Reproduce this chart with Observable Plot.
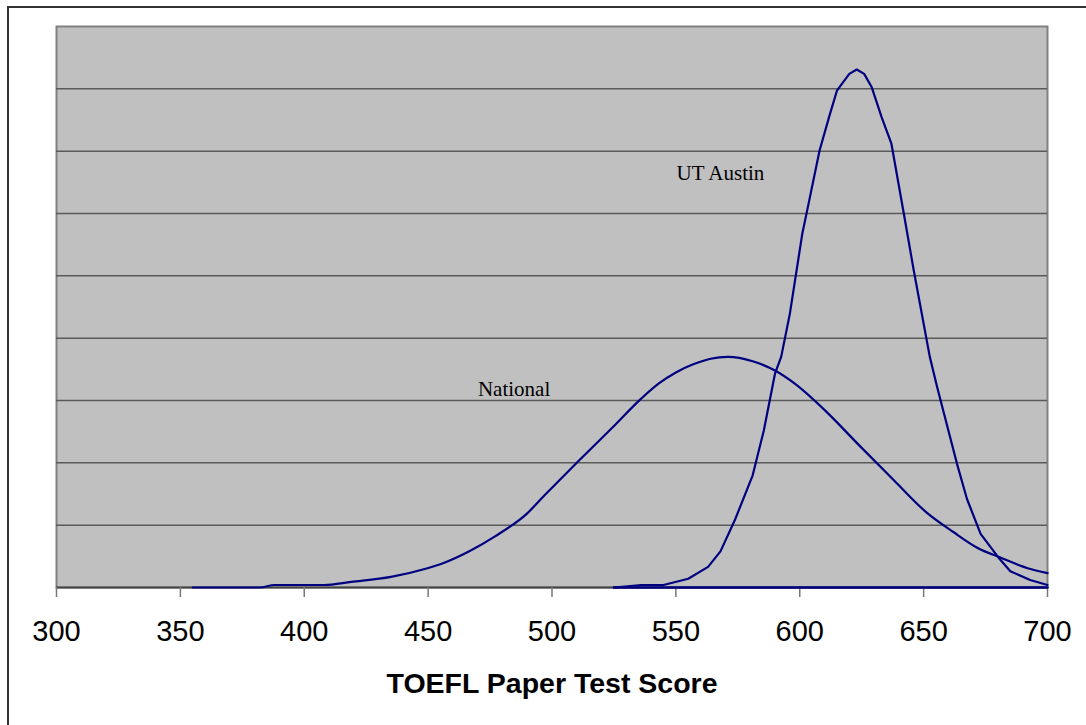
<!DOCTYPE html>
<html>
<head>
<meta charset="utf-8">
<script src="https://cdn.jsdelivr.net/npm/d3@7"></script>
<script src="https://cdn.jsdelivr.net/npm/@observablehq/plot@0.6"></script>
<style>
  html, body { margin: 0; padding: 0; background: #fff; overflow: hidden; }
  #wrap { position: relative; width: 1086px; height: 725px; }
  #border { position: absolute; left: 7px; top: 6px; width: 1200px; height: 800px;
            border-left: 2px solid #333; border-top: 2px solid #333; pointer-events: none; }
  #chart { position: absolute; left: 0; top: 0; }
</style>
</head>
<body>
<div id="wrap"><div id="chart"></div><div id="border"></div></div>
<script>
// TOEFL paper test score distributions (relative frequency, arbitrary units)
const nationalScore = [355, 382, 388, 408, 419, 435, 449, 456, 467, 477, 490, 497, 503, 511, 524, 536, 543, 550, 557, 564, 571, 581, 590, 598, 611, 624, 638, 651, 662, 672, 681, 692, 700];
const nationalFreq  = [0, 0, 0.04, 0.04, 0.09, 0.17, 0.30, 0.39, 0.59, 0.82, 1.19, 1.48, 1.72, 2.04, 2.55, 3.03, 3.27, 3.45, 3.58, 3.67, 3.70, 3.63, 3.48, 3.27, 2.81, 2.28, 1.72, 1.21, 0.89, 0.63, 0.48, 0.31, 0.23];

const utScore = [525, 536, 545, 555, 563, 568, 574, 581, 585.5, 590, 592.5, 596, 601, 603, 608, 612, 615, 620, 623, 626, 629, 633, 637, 642, 646, 652.5, 655.5, 663.5, 667.5, 673, 680, 685, 693, 700];
const utFreq  = [0, 0.04, 0.04, 0.14, 0.33, 0.58, 1.10, 1.80, 2.52, 3.43, 3.70, 4.39, 5.67, 6.05, 7.01, 7.57, 7.97, 8.24, 8.31, 8.24, 8.03, 7.55, 7.12, 6.00, 5.09, 3.70, 3.21, 1.98, 1.42, 0.86, 0.49, 0.26, 0.12, 0.04];

const zeroScore = [525, 700];
const zeroFreq  = [0, 0];

const xTicks = [300, 350, 400, 450, 500, 550, 600, 650, 700];
const gridValues = [1, 2, 3, 4, 5, 6, 7, 8];

const labelText  = ["UT Austin", "National"];
const labelScore = [568, 484.7];
const labelFreq  = [6.64, 3.18];

const national = nationalScore.map((s, i) => ({score: s, freq: nationalFreq[i]}));
const ut = utScore.map((s, i) => ({score: s, freq: utFreq[i]}));
const zero = zeroScore.map((s, i) => ({score: s, freq: zeroFreq[i]}));
const labels = labelText.map((t, i) => ({text: t, score: labelScore[i], freq: labelFreq[i]}));

const navy = "#000080";

const chart = Plot.plot({
  width: 1086,
  height: 725,
  marginLeft: 56,
  marginRight: 39,
  marginTop: 26,
  marginBottom: 138,
  style: {background: "transparent", fontFamily: "Liberation Sans, Arial, sans-serif"},
  x: {domain: [300, 700]},
  y: {domain: [0, 9], axis: null},
  marks: [
    Plot.frame({fill: "#c0c0c0", stroke: "#808080", strokeWidth: 2}),
    Plot.ruleY(gridValues, {stroke: "#5a5a5a", strokeWidth: 1.5}),
    Plot.ruleY([0], {stroke: "#444", strokeWidth: 2}),
    Plot.axisX({ticks: xTicks, tickSize: 10, tickPadding: 23, stroke: "#777", strokeWidth: 1.5,
                fontSize: 29, fill: "#000", label: null, tickFormat: d => String(d)}),
    Plot.line(zero, {x: "score", y: "freq", stroke: navy, strokeWidth: 2.5}),
    Plot.line(national, {x: "score", y: "freq", stroke: navy, strokeWidth: 2.2, curve: "monotone-x"}),
    Plot.line(ut, {x: "score", y: "freq", stroke: navy, strokeWidth: 2.2}),
    Plot.text(labels, {x: "score", y: "freq", text: "text", fontSize: 21,
                       fontFamily: "Liberation Serif, Times New Roman, serif", fill: "#000"}),
    Plot.text(["TOEFL Paper Test Score"], {frameAnchor: "bottom", lineAnchor: "middle", dy: 96, fontSize: 28.5,
                       fontWeight: "bold", fill: "#000"})
  ]
});
document.getElementById("chart").appendChild(chart);
</script>
</body>
</html>
